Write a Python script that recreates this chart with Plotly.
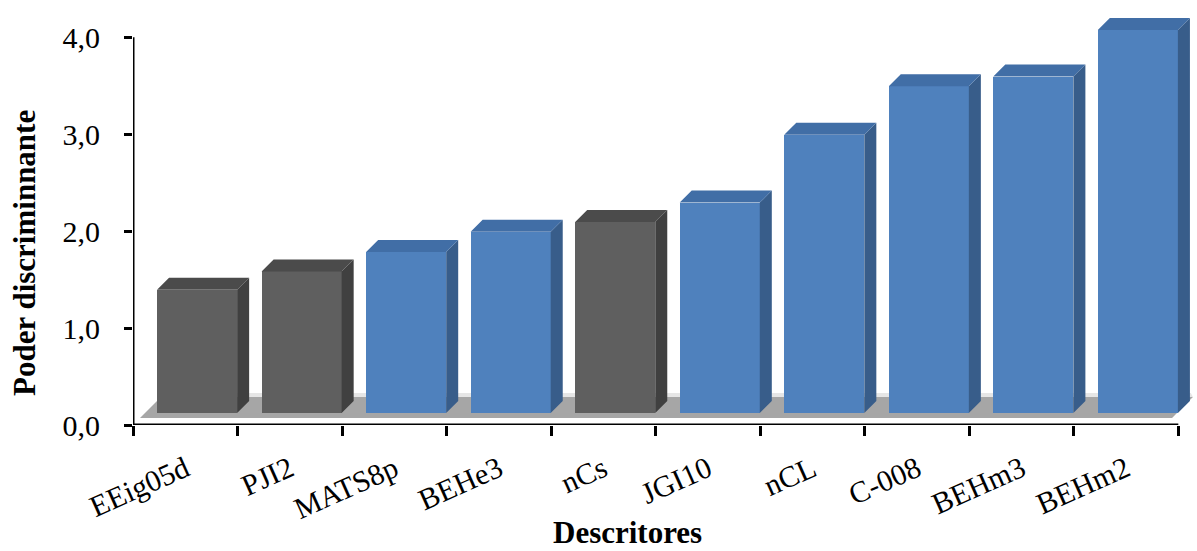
import plotly.graph_objects as go

# ---- data ----
categories = ["EEig05d", "PJI2", "MATS8p", "BEHe3", "nCs", "JGI10", "nCL", "C-008", "BEHm3", "BEHm2"]
values = [1.27, 1.46, 1.66, 1.87, 1.97, 2.17, 2.87, 3.37, 3.47, 3.95]
groups = ["grey", "grey", "blue", "blue", "grey", "blue", "blue", "blue", "blue", "blue"]
y_ticks = [0, 1, 2, 3, 4]

# ---- style ----
FRONT = {"grey": "#5f5f5f", "blue": "#4f81bd"}
SIDE = {"grey": "#404040", "blue": "#385d8a"}
TOP = {"grey": "#4b4b4b", "blue": "#416ea6"}
OFF = 0.113     # oblique shift of the front face (x data units)
W = 0.766       # front face width
DX = 0.115      # bar depth, x
DY = 0.124      # bar depth, y
BASE = 0.124    # front face floor height
FONT = "Liberation Serif"

xs = list(range(len(categories)))

fig = go.Figure()

# front faces
fig.add_bar(
    x=[i + OFF for i in xs], y=values, base=BASE, width=W,
    marker=dict(color=[FRONT[g] for g in groups], line=dict(width=0)),
    hoverinfo="skip", showlegend=False,
)

# side and top faces, computed from the values
for g in ("grey", "blue"):
    sx, sy, tx, ty = [], [], [], []
    for i, v, gg in zip(xs, values, groups):
        if gg != g:
            continue
        left = i + OFF - W / 2
        right = i + OFF + W / 2
        top = BASE + v
        sx += [right, right, right + DX, right + DX, right, None]
        sy += [BASE, top, top + DY, BASE + DY, BASE, None]
        tx += [left, right, right + DX, left + DX, left, None]
        ty += [top, top, top + DY, top + DY, top, None]
    fig.add_scatter(x=sx, y=sy, mode="lines", fill="toself", fillcolor=SIDE[g],
                    line=dict(width=0, color=SIDE[g]), hoverinfo="skip", showlegend=False)
    fig.add_scatter(x=tx, y=ty, mode="lines", fill="toself", fillcolor=TOP[g],
                    line=dict(width=0, color=TOP[g]), hoverinfo="skip", showlegend=False)

shapes = [
    # floor slab
    dict(type="path", xref="x", yref="y", layer="below",
         path="M -0.433,0.072 L 9.44,0.072 L 9.64,0.289 L -0.232,0.289 Z",
         fillcolor="#a6a6a6", line=dict(width=0)),
    dict(type="path", xref="x", yref="y", layer="below",
         path="M -0.232,0.289 L 9.64,0.289 L 9.62,0.33 L -0.21,0.33 Z",
         fillcolor="#e6e6e6", line=dict(width=0)),
    # axis lines
    dict(type="line", xref="x", yref="y", x0=-0.5, x1=-0.5, y0=0, y1=4,
         line=dict(color="black", width=3)),
    dict(type="line", xref="x", yref="y", x0=-0.5, x1=9.5, y0=0, y1=0,
         line=dict(color="black", width=3)),
]

fig.update_layout(
    width=1197, height=551,
    margin=dict(l=133, r=3, t=13, b=126),
    plot_bgcolor="white", paper_bgcolor="white",
    separators=",.",
    bargap=0,
    shapes=shapes,
    font=dict(family=FONT, color="black"),
    xaxis=dict(
        range=[-0.5, 9.65], tickmode="array", tickvals=xs, ticktext=categories,
        tickangle=-24, ticks="", showline=False, showgrid=False, zeroline=False,
        tickfont=dict(family=FONT, size=30, color="black"),
        ticklabelstandoff=20,
        minor=dict(tickmode="array", tickvals=[i - 0.5 for i in range(len(categories) + 1)],
                   ticks="outside", ticklen=10, tickwidth=3, tickcolor="black", showgrid=False),
    ),
    yaxis=dict(
        range=[0, 4.25], tickmode="array", tickvals=y_ticks, tickformat=".1f",
        ticks="outside", ticklen=8, tickwidth=3, tickcolor="black",
        showline=False, showgrid=False, zeroline=False,
        tickfont=dict(family=FONT, size=30, color="black"),
        ticklabelstandoff=18,
    ),
    annotations=[
        dict(text="<b>Poder discriminnante</b>", xref="paper", yref="paper",
             x=-0.1018, y=0.4175, textangle=-90, showarrow=False,
             font=dict(family=FONT, size=31, color="black"),
             xanchor="center", yanchor="middle"),
        dict(text="<b>Descritores</b>", xref="paper", yref="paper",
             x=0.4665, y=-0.262, showarrow=False,
             font=dict(family=FONT, size=31, color="black"),
             xanchor="center", yanchor="middle"),
    ],
)

fig.write_html("out.html")
